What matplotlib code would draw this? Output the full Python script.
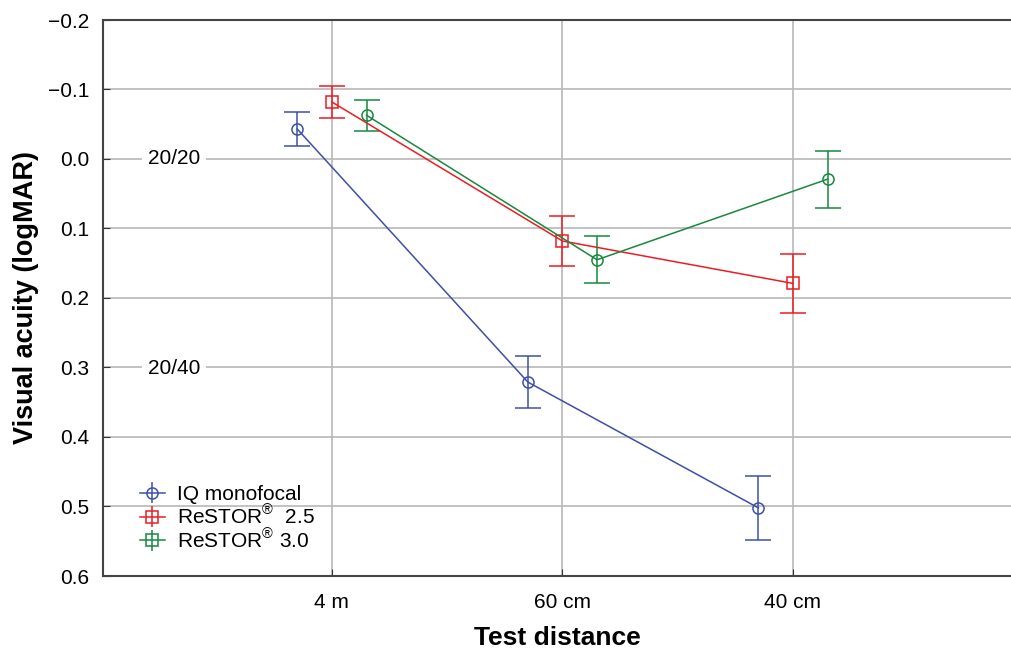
import numpy as np
import matplotlib.pyplot as plt
from matplotlib.legend_handler import HandlerErrorbar

plt.rcParams['font.family'] = ['Liberation Sans', 'DejaVu Sans']
plt.rcParams['mathtext.fontset'] = 'custom'
plt.rcParams['mathtext.rm'] = 'Liberation Sans'

distances = ['4 m', '60 cm', '40 cm']

iq_mean = [-0.043, 0.321, 0.502]
iq_err = [0.024, 0.037, 0.046]

r25_mean = [-0.082, 0.118, 0.179]
r25_err = [0.023, 0.036, 0.043]

r30_mean = [-0.063, 0.145, 0.029]
r30_err = [0.022, 0.034, 0.041]

snellen_labels = ['20/20', '20/40']
snellen_vals = [0.0, 0.301]

fig = plt.figure(figsize=(10.12, 6.52), dpi=100)
ax = fig.add_axes([103 / 1012, 1 - 576 / 652, (1012 - 103) / 1012, (576 - 20) / 652])

x = np.arange(1, len(distances) + 1)
blue = '#3d4fa8'
red = '#ec1c24'
green = '#17893d'

common = dict(lw=1.1, elinewidth=1.1, capsize=9.5, capthick=1.1, mfc='none', mew=1.1, ms=8)
ax.errorbar(x - 0.15, iq_mean, yerr=iq_err, color=blue, marker='o', **common)
ax.errorbar(x, r25_mean, yerr=r25_err, color=red, marker='s', **common)
ax.errorbar(x + 0.15, r30_mean, yerr=r30_err, color=green, marker='o', **common)

ax.set_xlim(0.007, 3.95)
ax.set_ylim(0.6, -0.2)
ax.set_xticks(x)
ax.set_xticklabels(distances)
ax.set_yticks(np.arange(-0.2, 0.61, 0.1))
ax.set_yticklabels(['\u22120.2', '\u22120.1', '0.0', '0.1', '0.2', '0.3', '0.4', '0.5', '0.6'])
ax.grid(True, color='#b8b8b8', lw=1.2)
ax.set_axisbelow(True)
ax.tick_params(direction='in', length=5, labelsize=15, color='#333333')
ax.tick_params(axis='x', pad=12)
ax.tick_params(axis='y', pad=10)
for s in ['top', 'bottom', 'left']:
    ax.spines[s].set_color('#444444')
    ax.spines[s].set_linewidth(1.5)
ax.spines['right'].set_visible(False)

for lab, v in zip(snellen_labels, snellen_vals):
    ax.text(0.315, v, lab, ha='center', va='center', fontsize=15,
            bbox=dict(facecolor='white', edgecolor='none', pad=4))

ax.set_xlabel('Test distance', fontsize=19, fontweight='bold', va='center')
ax.set_ylabel('Visual acuity (logMAR)', fontsize=19.5, fontweight='bold', va='center')
ax.xaxis.set_label_coords(0.5, -0.112)
ax.yaxis.set_label_coords(-0.085, 0.5)

# legend handles
h1 = ax.errorbar([], [], yerr=[], color=blue, marker='o', **common)
h2 = ax.errorbar([], [], yerr=[], color=red, marker='s', **common)
h3 = ax.errorbar([], [], yerr=[], color=green, marker='s', **common)
ax.legend([h1, h2, h3], ['IQ monofocal', 'ReSTOR$^{\\mathrm{®}}$  2.5', 'ReSTOR$^{\\mathrm{®}}$ 3.0'],
          loc='lower left', bbox_to_anchor=(0.02, 0.01), frameon=False, fontsize=15,
          handlelength=1.2, labelspacing=0.0, handletextpad=0.6,
          handler_map={type(h1): HandlerErrorbar(yerr_size=0.52)})

fig.savefig('out.png', dpi=100)
